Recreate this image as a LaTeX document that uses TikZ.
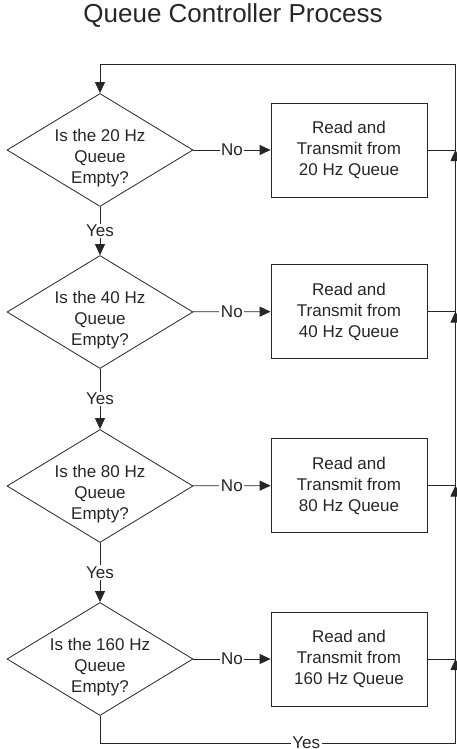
\documentclass[tikz,border=0pt]{standalone}
\usepackage{fontspec}
\setmainfont{Liberation Sans}
\usetikzlibrary{shapes.geometric,arrows.meta}
\begin{document}
\begin{tikzpicture}[x=1pt,y=-1pt, line width=0.8pt, draw=black!85,
  every node/.style={font=\fontsize{17}{21}\selectfont, text=black!85},
  arr/.style={-{Triangle[length=11pt,width=10pt]}},
  dia/.style={draw, shape=diamond, minimum width=186pt, minimum height=113pt, inner sep=0pt},
  dtext/.style={align=center, yshift=-8pt},
  procbox/.style={draw, rectangle, minimum width=156pt, minimum height=94pt, align=center, inner sep=0pt},
  lbl/.style={fill=white, inner sep=1.5pt}]
\useasboundingbox (0,0) rectangle (457,749);

\node[font=\fontsize{26}{30}\selectfont] (title) at (233,16) {Queue Controller Process};

\node[dia] (d1) at (100,150) {};
\node[dia] (d2) at (100,312) {};
\node[dia] (d3) at (100,486) {};
\node[dia] (d4) at (100,659) {};
\node[dtext] (t1) at (d1.center) {Is the 20 Hz\\Queue\\Empty?};
\node[dtext] (t2) at (d2.center) {Is the 40 Hz\\Queue\\Empty?};
\node[dtext] (t3) at (d3.center) {Is the 80 Hz\\Queue\\Empty?};
\node[dtext] (t4) at (d4.center) {Is the 160 Hz\\Queue\\Empty?};

\node[procbox] (b1) at (349,150) {Read and\\Transmit from\\20 Hz Queue};
\node[procbox] (b2) at (349,311.5) {Read and\\Transmit from\\40 Hz Queue};
\node[procbox] (b3) at (349,485.5) {Read and\\Transmit from\\80 Hz Queue};
\node[procbox] (b4) at (349,659) {Read and\\Transmit from\\160 Hz Queue};

\coordinate (j1) at (455.5,150);
\coordinate (j2) at (455.5,311.5);
\coordinate (j3) at (455.5,485.5);
\coordinate (j4) at (455.5,659);
\coordinate (tr) at (455.5,64);
\coordinate (bc) at (455.5,743);

% No branches
\draw[arr] (d1) -- node[lbl] {No} (b1);
\draw[arr] (d2) -- node[lbl] {No} (b2);
\draw[arr] (d3) -- node[lbl] {No} (b3);
\draw[arr] (d4) -- node[lbl] {No} (b4);

% Yes branches
\draw[arr] (d1) -- node[lbl] {Yes} (d2);
\draw[arr] (d2) -- node[lbl] {Yes} (d3);
\draw[arr] (d3) -- node[lbl] {Yes} (d4);
\draw (d4.south) |- node[lbl, pos=0.79] {Yes} (bc);

% box outputs
\draw (b1.east) -- (j1);
\draw (b2.east) -- (j2);
\draw (b3.east) -- (j3);
\draw (b4.east) -- (j4);

% return line
\draw[arr] (bc) -- (j4);
\draw[arr] (j4) -- (j3);
\draw[arr] (j3) -- (j2);
\draw[arr] (j2) -- (j1);
\draw[arr] (j1) -- (tr) -| (d1.north);
\end{tikzpicture}
\end{document}
